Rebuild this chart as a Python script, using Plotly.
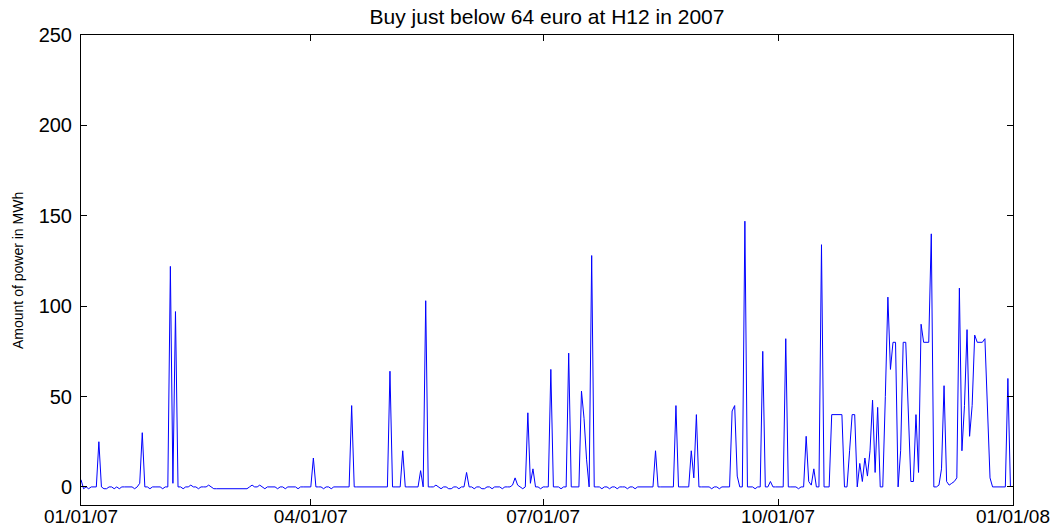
import pandas as pd
import plotly.graph_objects as go

# ---- data (one value per day of 2007) ----
start_date = "2007-01-01"
n_days = 365
amount_mwh = [
    4, -1, 0, -1, 0, 0, 0, 25, 0, -1,
    -1, 0, 0, -1, 0, -1, 0, 0, 0, 0,
    0, -1, 0, 2, 30, 0, 0, -1, 0, 0,
    0, 0, -1, 0, 0, 122, 2, 97, 0, 0,
    -1, 0, 0, 1, 0, 0, -1, 0, 0, 0,
    1, 0, -1, -1, -1, -1, -1, -1, -1, -1,
    -1, -1, -1, -1, -1, -1, 0, 1, 0, 0,
    1, 0, -1, 0, 0, 0, 0, -1, 0, 0,
    -1, 0, 0, 0, 0, -1, 0, 0, 0, 0,
    0, 16, 0, 0, 0, -1, 0, 0, -1, 0,
    0, 0, 0, 0, 0, 0, 45, 0, 0, 0,
    0, 0, 0, 0, 0, 0, 0, 0, 0, 0,
    0, 64, 0, 0, 0, 0, 20, 0, 0, 0,
    0, 0, 0, 9, 0, 103, 0, 0, 0, 1,
    0, -1, 0, 0, -1, -1, 0, 0, -1, 0,
    0, 8, 0, 0, -1, 0, 0, -1, -1, 0,
    0, -1, 0, 0, 0, -1, 0, 0, 0, 1,
    5, 1, 0, -1, 0, 41, 2, 10, 0, 0,
    -1, 0, 0, 0, 65, 0, 0, 0, -1, 0,
    0, 74, 0, 0, 0, 0, 53, 38, 15, 0,
    128, 0, 0, 0, -1, 0, 0, -1, 0, 0,
    -1, 0, 0, 0, -1, 0, 0, -1, 0, 0,
    0, 0, 0, 0, 0, 20, 0, 0, 0, 0,
    0, 0, 0, 45, 0, 0, 0, 0, 0, 20,
    5, 40, 0, 0, 0, 0, 0, -1, 0, 0,
    -1, 0, 0, 0, 0, 42, 45, 6, 0, 0,
    147, 0, 0, 0, -1, 0, 0, 75, 0, 0,
    3, 0, 0, 0, 0, 0, 82, 0, 0, 0,
    0, -1, 0, 0, 28, 3, 1, 10, 0, 0,
    134, 0, 0, 0, 40, 40, 40, 40, 40, 0,
    0, 20, 40, 40, 0, 13, 3, 16, 6, 20,
    48, 8, 44, 0, 0, 50, 105, 65, 80, 80,
    0, 20, 80, 80, 35, 3, 3, 40, 8, 90,
    80, 80, 80, 140, 0, 0, 1, 10, 56, 3,
    1, 2, 3, 5, 110, 20, 45, 87, 28, 45,
    84, 80, 80, 80, 82, 40, 5, 0, 0, 0,
    0, 0, 0, 60, 0,
]
x_tick_values = ["2007-01-01", "2007-04-01", "2007-07-01", "2007-10-01", "2008-01-01"]
x_tick_labels = ["01/01/07", "04/01/07", "07/01/07", "10/01/07", "01/01/08"]
y_tick_values = [0, 50, 100, 150, 200, 250]
y_tick_labels = ["0", "50", "100", "150", "200", "250"]
title_text = "Buy just below 64 euro at H12 in 2007"
y_title_text = "Amount of power in MWh"

dates = pd.date_range(start_date, periods=n_days, freq="D")

W, H = 1061, 528
L, R, T, B = 81, 48, 35, 23
FONT = "Liberation Sans, Arial, sans-serif"

fig = go.Figure()
fig.add_trace(go.Scatter(
    x=dates, y=amount_mwh, mode="lines",
    line=dict(color="#0000ff", width=1),
    showlegend=False, hoverinfo="skip",
))

axis_common = dict(
    showline=True, linecolor="#000000", linewidth=1, mirror="ticks",
    ticks="inside", ticklen=6, tickcolor="#000000", tickwidth=1,
    showgrid=False, zeroline=False, automargin=False,
)

fig.update_layout(
    width=W, height=H,
    margin=dict(l=L, r=R, t=T, b=B, pad=0),
    paper_bgcolor="white", plot_bgcolor="white",
    font=dict(family=FONT, color="#000000"),
    title=dict(text=title_text, x=0.5, xref="paper", xanchor="center",
               y=1 - 17 / H, yref="container", yanchor="middle",
               font=dict(family=FONT, size=21, color="#000000")),
    xaxis=dict(range=["2007-01-01", "2008-01-01"], tickmode="array",
               tickvals=x_tick_values, ticktext=x_tick_labels,
               ticklabelstandoff=-6,
               tickfont=dict(family=FONT, size=19, color="#000000"),
               **axis_common),
    yaxis=dict(range=[-10, 250], tickmode="array",
               tickvals=y_tick_values, ticktext=y_tick_labels,
               ticklabelstandoff=4,
               tickfont=dict(family=FONT, size=20, color="#000000"),
               **axis_common),
)

fig.add_annotation(
    text=y_title_text, textangle=-90, showarrow=False,
    xref="paper", yref="paper", x=(18 - L) / (W - L - R), y=0.5,
    xanchor="center", yanchor="middle",
    font=dict(family=FONT, size=14, color="#000000"),
)

fig.write_html(
    "out.html",
    config={"displayModeBar": False},
    post_script="document.body.style.margin='0';document.body.style.overflow='hidden';",
)
